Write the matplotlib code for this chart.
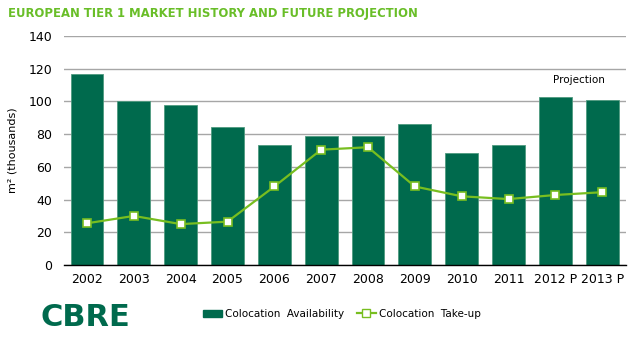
import matplotlib.pyplot as plt
from matplotlib.lines import Line2D
from matplotlib.patches import Patch

years = ["2002", "2003", "2004", "2005", "2006", "2007", "2008", "2009",
         "2010", "2011", "2012 P", "2013 P"]
availability = [116.5, 100, 98, 84.3, 73.3, 79, 79, 86, 68.5, 73.3, 102.5, 101]
take_up = [25.5, 30, 25, 26.5, 48, 70.5, 72, 48, 42, 40.3, 42.8, 44.5]

DARK_GREEN = "#006a4d"
LIGHT_GREEN = "#78be20"
TITLE_GREEN = "#69be28"

fig = plt.figure(figsize=(6.44, 3.5), dpi=100)
ax = fig.add_axes([63.6 / 644, 1 - 265 / 350, 562 / 644, 229 / 350])

x = range(len(years))
ax.bar(x, availability, width=0.7, color=DARK_GREEN, edgecolor="#4f9a7f",
       linewidth=0.6, zorder=2)
ax.plot(x, take_up, color=LIGHT_GREEN, linewidth=1.6, marker="s", markersize=6,
        markerfacecolor="white", markeredgecolor=LIGHT_GREEN, markeredgewidth=1.2,
        zorder=3)

ax.set_xlim(-0.5, len(years) - 0.5)
ax.set_ylim(0, 140)
ax.set_yticks(range(0, 141, 20))
ax.set_xticks(list(x))
ax.set_xticklabels(years, fontsize=9)
ax.tick_params(axis="y", labelsize=9, length=0, pad=8)
ax.tick_params(axis="x", length=0, pad=6)
ax.grid(axis="y", color="#a6a6a6", linewidth=1.0, zorder=0)
ax.set_axisbelow(True)
for side in ["top", "right", "left"]:
    ax.spines[side].set_visible(False)
ax.spines["bottom"].set_color("black")
ax.spines["bottom"].set_linewidth(1.0)
ax.set_ylabel("m² (thousands)", fontsize=8, labelpad=8)

ax.text(10.5, 110, "Projection", fontsize=7.5, ha="center", va="bottom")

fig.text(8 / 644, 1 - 14 / 350, "EUROPEAN TIER 1 MARKET HISTORY AND FUTURE PROJECTION",
         color=TITLE_GREEN, fontsize=8.4, fontweight="bold", va="center")
fig.text(40 / 644, 1 - 318 / 350, "CBRE", color=DARK_GREEN, fontsize=22,
         fontweight="bold", va="center")

handles = [
    Patch(facecolor=DARK_GREEN, edgecolor=DARK_GREEN, label="Colocation  Availability"),
    Line2D([0], [0], color=LIGHT_GREEN, linewidth=1.6, marker="s", markersize=6,
           markerfacecolor="white", markeredgecolor=LIGHT_GREEN,
           label="Colocation  Take-up"),
]
fig.legend(handles=handles, loc="center", bbox_to_anchor=(342 / 644, 1 - 314 / 350),
           ncol=2, frameon=False, fontsize=7.5, handlelength=1.8, columnspacing=1.2,
           handletextpad=0.3)

fig.savefig("out.png", dpi=100)
